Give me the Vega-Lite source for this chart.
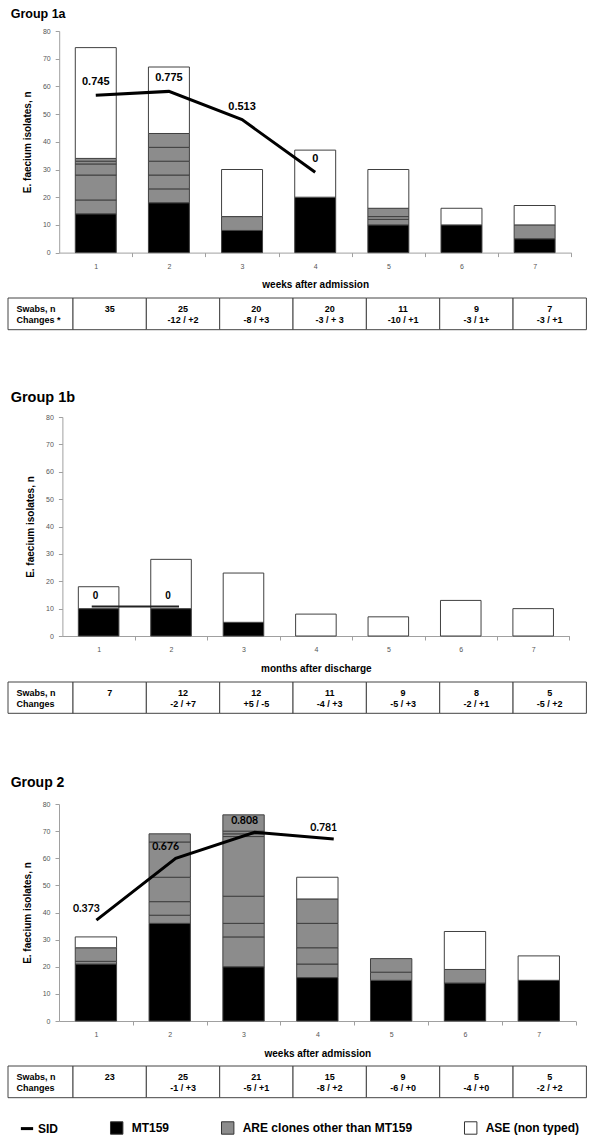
{
  "$schema": "https://vega.github.io/schema/vega-lite/v6.json",
  "padding": {"left": 7, "top": 7, "right": 5, "bottom": 5},
  "background": "white",
  "config": {
    "view": {"stroke": null},
    "font": "Liberation Sans",
    "axis": {"grid": false, "domainColor": "#a0a0a0", "tickColor": "#a0a0a0", "tickSize": 4, "labelFont": "Liberation Sans", "labelFontSize": 7, "labelColor": "#555555", "titleFont": "Liberation Sans", "titleFontSize": 10, "titleFontWeight": "bold", "titleColor": "#000000"},
    "axisX": {"labelAngle": 0, "labelPadding": 5.5, "titlePadding": 10.5},
    "axisY": {"labelPadding": 5, "titlePadding": 10},
    "text": {"font": "Liberation Sans", "fontWeight": "bold", "color": "#000000"},
    "title": {"font": "Liberation Sans", "fontWeight": "bold", "color": "#000000", "anchor": "start", "frame": "group"}
  },
  "datasets": {
    "bars1a": [
      {"week": 1, "seg": 1, "type": "MT159", "n": 14},
      {"week": 1, "seg": 2, "type": "ARE clones other than MT159", "n": 5},
      {"week": 1, "seg": 3, "type": "ARE clones other than MT159", "n": 9},
      {"week": 1, "seg": 4, "type": "ARE clones other than MT159", "n": 4},
      {"week": 1, "seg": 5, "type": "ARE clones other than MT159", "n": 1},
      {"week": 1, "seg": 6, "type": "ARE clones other than MT159", "n": 1},
      {"week": 1, "seg": 7, "type": "ASE (non typed)", "n": 40},
      {"week": 2, "seg": 1, "type": "MT159", "n": 18},
      {"week": 2, "seg": 2, "type": "ARE clones other than MT159", "n": 5},
      {"week": 2, "seg": 3, "type": "ARE clones other than MT159", "n": 5},
      {"week": 2, "seg": 4, "type": "ARE clones other than MT159", "n": 5},
      {"week": 2, "seg": 5, "type": "ARE clones other than MT159", "n": 5},
      {"week": 2, "seg": 6, "type": "ARE clones other than MT159", "n": 5},
      {"week": 2, "seg": 7, "type": "ASE (non typed)", "n": 24},
      {"week": 3, "seg": 1, "type": "MT159", "n": 8},
      {"week": 3, "seg": 2, "type": "ARE clones other than MT159", "n": 5},
      {"week": 3, "seg": 3, "type": "ASE (non typed)", "n": 17},
      {"week": 4, "seg": 1, "type": "MT159", "n": 20},
      {"week": 4, "seg": 2, "type": "ASE (non typed)", "n": 17},
      {"week": 5, "seg": 1, "type": "MT159", "n": 10},
      {"week": 5, "seg": 2, "type": "ARE clones other than MT159", "n": 2},
      {"week": 5, "seg": 3, "type": "ARE clones other than MT159", "n": 1},
      {"week": 5, "seg": 4, "type": "ARE clones other than MT159", "n": 3},
      {"week": 5, "seg": 5, "type": "ASE (non typed)", "n": 14},
      {"week": 6, "seg": 1, "type": "MT159", "n": 10},
      {"week": 6, "seg": 2, "type": "ASE (non typed)", "n": 6},
      {"week": 7, "seg": 1, "type": "MT159", "n": 5},
      {"week": 7, "seg": 2, "type": "ARE clones other than MT159", "n": 5},
      {"week": 7, "seg": 3, "type": "ASE (non typed)", "n": 7}
    ],
    "bars1b": [
      {"week": 1, "seg": 1, "type": "MT159", "n": 10},
      {"week": 1, "seg": 2, "type": "ASE (non typed)", "n": 8},
      {"week": 2, "seg": 1, "type": "MT159", "n": 10},
      {"week": 2, "seg": 2, "type": "ASE (non typed)", "n": 18},
      {"week": 3, "seg": 1, "type": "MT159", "n": 5},
      {"week": 3, "seg": 2, "type": "ASE (non typed)", "n": 18},
      {"week": 4, "seg": 1, "type": "ASE (non typed)", "n": 8},
      {"week": 5, "seg": 1, "type": "ASE (non typed)", "n": 7},
      {"week": 6, "seg": 1, "type": "ASE (non typed)", "n": 13},
      {"week": 7, "seg": 1, "type": "ASE (non typed)", "n": 10}
    ],
    "bars2": [
      {"week": 1, "seg": 1, "type": "MT159", "n": 21},
      {"week": 1, "seg": 2, "type": "ARE clones other than MT159", "n": 1},
      {"week": 1, "seg": 3, "type": "ARE clones other than MT159", "n": 5},
      {"week": 1, "seg": 4, "type": "ASE (non typed)", "n": 4},
      {"week": 2, "seg": 1, "type": "MT159", "n": 36},
      {"week": 2, "seg": 2, "type": "ARE clones other than MT159", "n": 3},
      {"week": 2, "seg": 3, "type": "ARE clones other than MT159", "n": 5},
      {"week": 2, "seg": 4, "type": "ARE clones other than MT159", "n": 9},
      {"week": 2, "seg": 5, "type": "ARE clones other than MT159", "n": 13},
      {"week": 2, "seg": 6, "type": "ARE clones other than MT159", "n": 3},
      {"week": 3, "seg": 1, "type": "MT159", "n": 20},
      {"week": 3, "seg": 2, "type": "ARE clones other than MT159", "n": 11},
      {"week": 3, "seg": 3, "type": "ARE clones other than MT159", "n": 5},
      {"week": 3, "seg": 4, "type": "ARE clones other than MT159", "n": 10},
      {"week": 3, "seg": 5, "type": "ARE clones other than MT159", "n": 22},
      {"week": 3, "seg": 6, "type": "ARE clones other than MT159", "n": 1},
      {"week": 3, "seg": 7, "type": "ARE clones other than MT159", "n": 1},
      {"week": 3, "seg": 8, "type": "ARE clones other than MT159", "n": 6},
      {"week": 4, "seg": 1, "type": "MT159", "n": 16},
      {"week": 4, "seg": 2, "type": "ARE clones other than MT159", "n": 5},
      {"week": 4, "seg": 3, "type": "ARE clones other than MT159", "n": 6},
      {"week": 4, "seg": 4, "type": "ARE clones other than MT159", "n": 9},
      {"week": 4, "seg": 5, "type": "ARE clones other than MT159", "n": 9},
      {"week": 4, "seg": 6, "type": "ASE (non typed)", "n": 8},
      {"week": 5, "seg": 1, "type": "MT159", "n": 15},
      {"week": 5, "seg": 2, "type": "ARE clones other than MT159", "n": 3},
      {"week": 5, "seg": 3, "type": "ARE clones other than MT159", "n": 5},
      {"week": 6, "seg": 1, "type": "MT159", "n": 14},
      {"week": 6, "seg": 2, "type": "ARE clones other than MT159", "n": 5},
      {"week": 6, "seg": 3, "type": "ASE (non typed)", "n": 14},
      {"week": 7, "seg": 1, "type": "MT159", "n": 15},
      {"week": 7, "seg": 2, "type": "ASE (non typed)", "n": 9}
    ],
    "sid1a": [
      {"pos": 1, "n": 56.8, "sid": 0.745},
      {"pos": 2, "n": 58.2, "sid": 0.775},
      {"pos": 3, "n": 48.0, "sid": 0.513},
      {"pos": 4, "n": 29.0, "sid": 0}
    ],
    "sid1b": [
      {"week": 1, "pos": 0.905, "n": 10.8, "sid": 0},
      {"week": 2, "pos": 2.11, "n": 10.8, "sid": 0}
    ],
    "sid2": [
      {"pos": 1.007, "n": 37.2, "sid": 0.373},
      {"pos": 2.081, "n": 60.0, "sid": 0.676},
      {"pos": 3.151, "n": 69.6, "sid": 0.808},
      {"pos": 4.222, "n": 67.1, "sid": 0.781}
    ],
    "tab1a": [
      {"week": 1, "swabs": "35", "changes": ""},
      {"week": 2, "swabs": "25", "changes": "-12 / +2"},
      {"week": 3, "swabs": "20", "changes": "-8 / +3"},
      {"week": 4, "swabs": "20", "changes": "-3 / + 3"},
      {"week": 5, "swabs": "11", "changes": "-10 / +1"},
      {"week": 6, "swabs": "9", "changes": "-3 / 1+"},
      {"week": 7, "swabs": "7", "changes": "-3 / +1"}
    ],
    "tab1b": [
      {"week": 1, "swabs": "7", "changes": ""},
      {"week": 2, "swabs": "12", "changes": "-2 / +7"},
      {"week": 3, "swabs": "12", "changes": "+5 / -5"},
      {"week": 4, "swabs": "11", "changes": "-4 / +3"},
      {"week": 5, "swabs": "9", "changes": "-5  / +3"},
      {"week": 6, "swabs": "8", "changes": "-2 / +1"},
      {"week": 7, "swabs": "5", "changes": "-5 / +2"}
    ],
    "tab2": [
      {"week": 1, "swabs": "23", "changes": ""},
      {"week": 2, "swabs": "25", "changes": "-1 / +3"},
      {"week": 3, "swabs": "21", "changes": "-5 / +1"},
      {"week": 4, "swabs": "15", "changes": "-8 / +2"},
      {"week": 5, "swabs": "9", "changes": "-6 / +0"},
      {"week": 6, "swabs": "5", "changes": "-4 / +0"},
      {"week": 7, "swabs": "5", "changes": "-2 / +2"}
    ]
  },
  "resolve": {"scale": {"fill": "shared", "stroke": "shared"}, "legend": {"fill": "shared", "stroke": "shared"}},
  "spacing": 0,
  "bounds": "flush",
  "vconcat": [
    {
      "width": 563.2, "height": 221.6,
      "title": {"text": "Group 1a", "dx": 2.7, "offset": 7, "fontSize": 12.5},
      "resolve": {"scale": {"x": "independent"}},
      "layer": [
        {
          "data": {"name": "bars1a"},
          "mark": {"type": "bar", "stroke": "#404040", "strokeWidth": 1},
          "encoding": {
            "x": {"field": "week", "type": "ordinal", "scale": {"domain": [1, 2, 3, 4, 5, 6, 7], "range": [51.2, 563.2], "paddingInner": 0.44, "paddingOuter": 0.22}, "axis": {"title": "weeks after admission", "tickOffset": 36.57, "labelOffset": -36.57}},
            "y": {"field": "n", "type": "quantitative", "stack": "zero", "scale": {"domain": [0, 80], "nice": false}, "axis": {"title": "E. faecium isolates, n", "values": [0, 10, 20, 30, 40, 50, 60, 70, 80], "offset": -51.2}},
            "fill": {"field": "type", "type": "nominal", "scale": {"domain": ["MT159", "ARE clones other than MT159", "ASE (non typed)"], "range": ["#000000", "#8c8c8c", "#ffffff"]}, "legend": {"orient": "none", "legendX": 101.7, "legendY": 1089.6, "direction": "horizontal", "title": null, "symbolType": "square", "symbolSize": 154, "symbolStrokeColor": "#333333", "symbolStrokeWidth": 1, "symbolOpacity": 1, "labelFont": "Liberation Sans", "labelFontSize": 12, "labelFontWeight": "bold", "labelColor": "#000000", "labelOffset": 8, "columnPadding": 49, "labelLimit": 300, "padding": 0}},
            "order": {"field": "seg", "type": "quantitative"}
          }
        },
        {
          "data": {"name": "sid1a"},
          "mark": {"type": "line", "strokeWidth": 3},
          "encoding": {
            "x": {"field": "pos", "type": "quantitative", "scale": {"domain": [0.5, 7.5], "range": [51.2, 563.2], "nice": false, "zero": false}, "axis": null},
            "y": {"field": "n", "type": "quantitative", "scale": {"domain": [0, 80], "nice": false}, "axis": {"title": "E. faecium isolates, n", "values": [0, 10, 20, 30, 40, 50, 60, 70, 80], "offset": -51.2}},
            "stroke": {"datum": "SID", "type": "nominal", "scale": {"domain": ["SID"], "range": ["#000000"]}, "legend": {"orient": "none", "legendX": 11, "legendY": 1089.6, "title": null, "symbolType": "stroke", "symbolSize": 150, "symbolStrokeWidth": 3, "labelFont": "Liberation Sans", "labelFontSize": 12, "labelFontWeight": "bold", "labelColor": "#000000", "labelOffset": 3, "padding": 0}}
          }
        },
        {
          "data": {"name": "sid1a"},
          "mark": {"type": "text", "dy": -13, "fontSize": 11},
          "encoding": {
            "x": {"field": "pos", "type": "quantitative", "scale": {"domain": [0.5, 7.5], "range": [51.2, 563.2], "nice": false, "zero": false}, "axis": null},
            "y": {"field": "n", "type": "quantitative", "scale": {"domain": [0, 80], "nice": false}, "axis": {"title": "E. faecium isolates, n", "values": [0, 10, 20, 30, 40, 50, 60, 70, 80], "offset": -51.2}},
            "text": {"field": "sid", "type": "quantitative", "format": ".3~f"}
          }
        }
      ]
    },
    {"width": 10, "height": 44.7, "data": {"values": []}, "mark": "point"},
    {
      "width": 578.4, "height": 31.7,
      "resolve": {"scale": {"x": "independent"}},
      "layer": [
        {
          "data": {"values": [{"col": "label", "a": "Swabs, n", "b": "Changes *"}]},
          "encoding": {"x": {"field": "col", "type": "nominal", "scale": {"range": [0, 65], "paddingInner": 0, "paddingOuter": 0}, "axis": null}},
          "layer": [
            {"mark": {"type": "rect", "fill": "#ffffff", "stroke": "#444444", "strokeWidth": 1}, "encoding": {}},
            {"mark": {"type": "text", "align": "left", "dx": -24, "dy": -5, "fontSize": 9}, "encoding": {"text": {"field": "a", "type": "nominal"}}},
            {"mark": {"type": "text", "align": "left", "dx": -24, "dy": 6, "fontSize": 9}, "encoding": {"text": {"field": "b", "type": "nominal"}}}
          ]
        },
        {
          "data": {"name": "tab1a"},
          "encoding": {"x": {"field": "week", "type": "ordinal", "scale": {"range": [65, 578.4], "paddingInner": 0, "paddingOuter": 0}, "axis": null}},
          "layer": [
            {"mark": {"type": "rect", "fill": "#ffffff", "stroke": "#444444", "strokeWidth": 1}, "encoding": {}},
            {"mark": {"type": "text", "dy": -5, "fontSize": 9}, "encoding": {"text": {"field": "swabs", "type": "nominal"}}},
            {"mark": {"type": "text", "dy": 6, "fontSize": 9}, "encoding": {"text": {"field": "changes", "type": "nominal"}}}
          ]
        }
      ]
    },
    {"width": 10, "height": 87, "data": {"values": []}, "mark": "point"},
    {
      "width": 561.4, "height": 219,
      "title": {"text": "Group 1b", "dx": 2.7, "offset": 7.4, "fontSize": 14.5},
      "resolve": {"scale": {"x": "independent"}},
      "layer": [
        {
          "data": {"name": "bars1b"},
          "mark": {"type": "bar", "stroke": "#404040", "strokeWidth": 1},
          "encoding": {
            "x": {"field": "week", "type": "ordinal", "scale": {"domain": [1, 2, 3, 4, 5, 6, 7], "range": [54.4, 561.4], "paddingInner": 0.44, "paddingOuter": 0.22}, "axis": {"title": "months after discharge", "tickOffset": 36.21, "labelOffset": -36.21}},
            "y": {"field": "n", "type": "quantitative", "stack": "zero", "scale": {"domain": [0, 80], "nice": false}, "axis": {"title": "E. faecium isolates, n", "values": [0, 10, 20, 30, 40, 50, 60, 70, 80], "offset": -54.4}},
            "fill": {"field": "type", "type": "nominal", "scale": {"domain": ["MT159", "ARE clones other than MT159", "ASE (non typed)"], "range": ["#000000", "#8c8c8c", "#ffffff"]}, "legend": {"orient": "none", "legendX": 101.7, "legendY": 1089.6, "direction": "horizontal", "title": null, "symbolType": "square", "symbolSize": 154, "symbolStrokeColor": "#333333", "symbolStrokeWidth": 1, "symbolOpacity": 1, "labelFont": "Liberation Sans", "labelFontSize": 12, "labelFontWeight": "bold", "labelColor": "#000000", "labelOffset": 8, "columnPadding": 49, "labelLimit": 300, "padding": 0}},
            "order": {"field": "seg", "type": "quantitative"}
          }
        },
        {
          "data": {"name": "sid1b"},
          "mark": {"type": "line", "strokeWidth": 2, "stroke": "#222222"},
          "encoding": {
            "x": {"field": "pos", "type": "quantitative", "scale": {"domain": [0.5, 7.5], "range": [54.4, 561.4], "nice": false, "zero": false}, "axis": null},
            "y": {"field": "n", "type": "quantitative", "scale": {"domain": [0, 80], "nice": false}, "axis": {"title": "E. faecium isolates, n", "values": [0, 10, 20, 30, 40, 50, 60, 70, 80], "offset": -54.4}}
          }
        },
        {
          "data": {"name": "sid1b"},
          "mark": {"type": "text", "dx": -3, "dy": -10, "fontSize": 10},
          "encoding": {
            "x": {"field": "week", "type": "ordinal", "scale": {"domain": [1, 2, 3, 4, 5, 6, 7], "range": [54.4, 561.4], "paddingInner": 0.44, "paddingOuter": 0.22}, "axis": null},
            "y": {"field": "n", "type": "quantitative", "scale": {"domain": [0, 80], "nice": false}, "axis": {"title": "E. faecium isolates, n", "values": [0, 10, 20, 30, 40, 50, 60, 70, 80], "offset": -54.4}},
            "text": {"field": "sid", "type": "quantitative", "format": ".3~f"}
          }
        }
      ]
    },
    {"width": 10, "height": 45.3, "data": {"values": []}, "mark": "point"},
    {
      "width": 578.4, "height": 31.3,
      "resolve": {"scale": {"x": "independent"}},
      "layer": [
        {
          "data": {"values": [{"col": "label", "a": "Swabs, n", "b": "Changes"}]},
          "encoding": {"x": {"field": "col", "type": "nominal", "scale": {"range": [0, 65], "paddingInner": 0, "paddingOuter": 0}, "axis": null}},
          "layer": [
            {"mark": {"type": "rect", "fill": "#ffffff", "stroke": "#444444", "strokeWidth": 1}, "encoding": {}},
            {"mark": {"type": "text", "align": "left", "dx": -24, "dy": -5, "fontSize": 9}, "encoding": {"text": {"field": "a", "type": "nominal"}}},
            {"mark": {"type": "text", "align": "left", "dx": -24, "dy": 6, "fontSize": 9}, "encoding": {"text": {"field": "b", "type": "nominal"}}}
          ]
        },
        {
          "data": {"name": "tab1b"},
          "encoding": {"x": {"field": "week", "type": "ordinal", "scale": {"range": [65, 578.4], "paddingInner": 0, "paddingOuter": 0}, "axis": null}},
          "layer": [
            {"mark": {"type": "rect", "fill": "#ffffff", "stroke": "#444444", "strokeWidth": 1}, "encoding": {}},
            {"mark": {"type": "text", "dy": -5, "fontSize": 9}, "encoding": {"text": {"field": "swabs", "type": "nominal"}}},
            {"mark": {"type": "text", "dy": 6, "fontSize": 9}, "encoding": {"text": {"field": "changes", "type": "nominal"}}}
          ]
        }
      ]
    },
    {"width": 10, "height": 89.4, "data": {"values": []}, "mark": "point"},
    {
      "width": 567.7, "height": 217,
      "title": {"text": "Group 2", "dx": 2.7, "offset": 10.2, "fontSize": 14},
      "resolve": {"scale": {"x": "independent"}},
      "layer": [
        {
          "data": {"name": "bars2"},
          "mark": {"type": "bar", "stroke": "#404040", "strokeWidth": 1},
          "encoding": {
            "x": {"field": "week", "type": "ordinal", "scale": {"domain": [1, 2, 3, 4, 5, 6, 7], "range": [51, 567.7], "paddingInner": 0.44, "paddingOuter": 0.22}, "axis": {"title": "weeks after admission", "tickOffset": 36.9, "labelOffset": -36.9}},
            "y": {"field": "n", "type": "quantitative", "stack": "zero", "scale": {"domain": [0, 80], "nice": false}, "axis": {"title": "E. faecium isolates, n", "values": [0, 10, 20, 30, 40, 50, 60, 70, 80], "offset": -51}},
            "fill": {"field": "type", "type": "nominal", "scale": {"domain": ["MT159", "ARE clones other than MT159", "ASE (non typed)"], "range": ["#000000", "#8c8c8c", "#ffffff"]}, "legend": {"orient": "none", "legendX": 101.7, "legendY": 1089.6, "direction": "horizontal", "title": null, "symbolType": "square", "symbolSize": 154, "symbolStrokeColor": "#333333", "symbolStrokeWidth": 1, "symbolOpacity": 1, "labelFont": "Liberation Sans", "labelFontSize": 12, "labelFontWeight": "bold", "labelColor": "#000000", "labelOffset": 8, "columnPadding": 49, "labelLimit": 300, "padding": 0}},
            "order": {"field": "seg", "type": "quantitative"}
          }
        },
        {
          "data": {"name": "sid2"},
          "mark": {"type": "line", "strokeWidth": 3},
          "encoding": {
            "x": {"field": "pos", "type": "quantitative", "scale": {"domain": [0.5, 7.5], "range": [51, 567.7], "nice": false, "zero": false}, "axis": null},
            "y": {"field": "n", "type": "quantitative", "scale": {"domain": [0, 80], "nice": false}, "axis": {"title": "E. faecium isolates, n", "values": [0, 10, 20, 30, 40, 50, 60, 70, 80], "offset": -51}},
            "stroke": {"datum": "SID", "type": "nominal", "scale": {"domain": ["SID"], "range": ["#000000"]}, "legend": {"orient": "none", "legendX": 11, "legendY": 1089.6, "title": null, "symbolType": "stroke", "symbolSize": 150, "symbolStrokeWidth": 3, "labelFont": "Liberation Sans", "labelFontSize": 12, "labelFontWeight": "bold", "labelColor": "#000000", "labelOffset": 3, "padding": 0}}
          }
        },
        {
          "data": {"name": "sid2"},
          "mark": {"type": "text", "dx": -10, "dy": -11, "fontSize": 10.5, "font": "Lato"},
          "encoding": {
            "x": {"field": "pos", "type": "quantitative", "scale": {"domain": [0.5, 7.5], "range": [51, 567.7], "nice": false, "zero": false}, "axis": null},
            "y": {"field": "n", "type": "quantitative", "scale": {"domain": [0, 80], "nice": false}, "axis": {"title": "E. faecium isolates, n", "values": [0, 10, 20, 30, 40, 50, 60, 70, 80], "offset": -51}},
            "text": {"field": "sid", "type": "quantitative", "format": ".3~f"}
          }
        }
      ]
    },
    {"width": 10, "height": 44.6, "data": {"values": []}, "mark": "point"},
    {
      "width": 578.4, "height": 31.7,
      "resolve": {"scale": {"x": "independent"}},
      "layer": [
        {
          "data": {"values": [{"col": "label", "a": "Swabs, n", "b": "Changes"}]},
          "encoding": {"x": {"field": "col", "type": "nominal", "scale": {"range": [0, 65], "paddingInner": 0, "paddingOuter": 0}, "axis": null}},
          "layer": [
            {"mark": {"type": "rect", "fill": "#ffffff", "stroke": "#444444", "strokeWidth": 1}, "encoding": {}},
            {"mark": {"type": "text", "align": "left", "dx": -24, "dy": -5, "fontSize": 9}, "encoding": {"text": {"field": "a", "type": "nominal"}}},
            {"mark": {"type": "text", "align": "left", "dx": -24, "dy": 6, "fontSize": 9}, "encoding": {"text": {"field": "b", "type": "nominal"}}}
          ]
        },
        {
          "data": {"name": "tab2"},
          "encoding": {"x": {"field": "week", "type": "ordinal", "scale": {"range": [65, 578.4], "paddingInner": 0, "paddingOuter": 0}, "axis": null}},
          "layer": [
            {"mark": {"type": "rect", "fill": "#ffffff", "stroke": "#444444", "strokeWidth": 1}, "encoding": {}},
            {"mark": {"type": "text", "dy": -5, "fontSize": 9}, "encoding": {"text": {"field": "swabs", "type": "nominal"}}},
            {"mark": {"type": "text", "dy": 6, "fontSize": 9}, "encoding": {"text": {"field": "changes", "type": "nominal"}}}
          ]
        }
      ]
    }
  ]
}
